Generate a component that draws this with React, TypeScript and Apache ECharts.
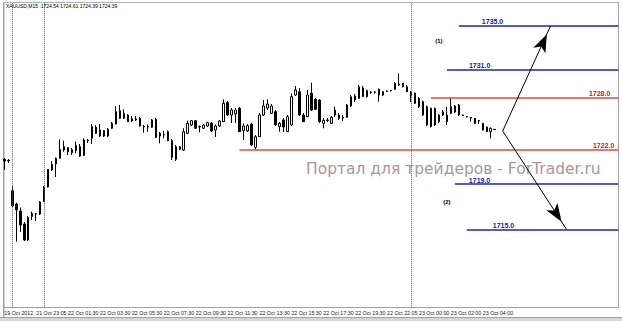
import React, { useEffect, useRef } from 'react';
import * as echarts from 'echarts';

const titleText = 'XAUUSD,M15  1724.54 1724.61 1724.39 1724.39';

const tickLabels = [
  '19 Oct 2012', '21 Oct 23:05', '22 Oct 01:30', '22 Oct 03:30', '22 Oct 05:30', '22 Oct 07:30',
  '22 Oct 09:30', '22 Oct 11:30', '22 Oct 13:30', '22 Oct 15:30', '22 Oct 17:30', '22 Oct 19:30',
  '22 Oct 22:05', '23 Oct 00:00', '23 Oct 02:00', '23 Oct 04:00',
];

const opens = [
  1721.65, 1721.55, 1718.53, 1717.2, 1716.5, 1715.2, 1713.6, 1715.95, 1716.2, 1716.2,
  1717.43, 1718.9, 1720.6, 1721.2, 1721.77, 1722.6, 1722.83, 1722.33, 1722.53, 1722.93,
  1722.07, 1723.6, 1723.77, 1724.87, 1724.0, 1724.53, 1724.0, 1724.77, 1725.2, 1726.53,
  1725.77, 1726.1, 1725.5, 1725.6, 1725.77, 1724.9, 1724.9, 1724.87, 1725.67, 1724.0,
  1724.1, 1724.43, 1723.53, 1721.67, 1722.67, 1722.6, 1724.27, 1725.1, 1725.53, 1724.9,
  1724.77, 1725.0, 1725.27, 1724.6, 1725.0, 1725.43, 1727.33, 1726.1, 1726.2, 1726.77,
  1724.53, 1724.5, 1725.17, 1722.87, 1723.93, 1726.1, 1726.8, 1726.27, 1726.43, 1724.93,
  1725.6, 1724.43, 1725.1, 1728.1, 1728.43, 1726.1, 1725.93, 1728.27, 1727.67, 1727.6,
  1725.27, 1725.55, 1725.27, 1726.1, 1726.1, 1725.8, 1725.87, 1727.0, 1727.6, 1727.77,
  1727.93, 1728.53, 1728.4, 1728.4, 1728.67, 1728.1, 1728.5, 1728.55, 1728.67, 1729.1,
  1729.27, 1728.93, 1728.0, 1728.27, 1727.77, 1727.43, 1726.93, 1724.93, 1725.1, 1725.43,
  1726.1, 1725.43, 1726.27, 1727.0, 1727.1, 1726.1, 1725.95, 1725.85, 1725.77, 1725.55,
  1725.27, 1724.9, 1724.43, 1724.67,
];

const closes = [
  1721.5, 1721.5, 1717.0, 1716.6, 1715.1, 1713.6, 1715.85, 1716.25, 1716.22, 1717.4,
  1718.9, 1720.65, 1721.17, 1721.77, 1722.67, 1722.93, 1722.43, 1722.63, 1723.07, 1722.0,
  1723.6, 1723.55, 1724.93, 1724.27, 1724.6, 1724.0, 1724.67, 1725.27, 1726.43, 1725.77,
  1726.27, 1725.43, 1725.75, 1725.7, 1725.0, 1724.95, 1724.95, 1725.6, 1723.87, 1724.27,
  1724.15, 1723.53, 1721.87, 1722.93, 1722.93, 1724.43, 1725.27, 1725.53, 1724.77, 1724.95,
  1725.1, 1725.33, 1724.5, 1725.0, 1725.5, 1727.27, 1726.1, 1726.6, 1726.6, 1724.43,
  1725.0, 1725.03, 1723.1, 1723.93, 1726.1, 1727.0, 1727.2, 1727.0, 1725.1, 1725.27,
  1724.9, 1725.93, 1727.93, 1728.6, 1726.1, 1725.43, 1728.1, 1726.6, 1726.67, 1725.43,
  1725.57, 1725.6, 1725.87, 1726.6, 1725.77, 1725.85, 1727.1, 1727.93, 1728.0, 1728.93,
  1728.8, 1727.93, 1728.35, 1728.37, 1728.1, 1728.43, 1728.47, 1728.52, 1729.27, 1729.2,
  1728.93, 1728.43, 1728.4, 1727.27, 1726.93, 1726.1, 1725.1, 1726.77, 1726.77, 1726.1,
  1726.4, 1726.1, 1726.93, 1726.4, 1726.1, 1726.06, 1725.91, 1725.8, 1725.27, 1725.5,
  1724.6, 1724.45, 1724.77, 1724.64,
];

const lows = [
  1720.6, 1721.3, 1716.9, 1713.43, 1714.4, 1713.5, 1713.5, 1715.6, 1715.5, 1716.1,
  1717.4, 1718.85, 1720.5, 1719.9, 1721.75, 1722.43, 1722.1, 1722.1, 1722.27, 1721.9,
  1722.0, 1723.3, 1723.2, 1724.2, 1723.9, 1723.9, 1723.9, 1724.7, 1725.15, 1725.7,
  1725.7, 1725.4, 1725.4, 1725.5, 1724.95, 1724.33, 1724.43, 1724.8, 1723.8, 1723.27,
  1723.77, 1723.5, 1721.6, 1721.5, 1722.6, 1722.5, 1724.2, 1725.0, 1724.7, 1724.37,
  1724.7, 1724.9, 1724.4, 1723.9, 1724.9, 1725.4, 1726.0, 1725.3, 1725.3, 1724.4,
  1723.6, 1724.4, 1723.0, 1722.65, 1723.9, 1726.0, 1726.6, 1726.2, 1725.0, 1724.43,
  1724.4, 1724.4, 1725.0, 1728.0, 1726.0, 1725.4, 1725.9, 1726.5, 1726.6, 1725.3,
  1724.77, 1725.4, 1725.2, 1725.9, 1725.6, 1725.5, 1725.8, 1726.9, 1727.4, 1727.7,
  1727.9, 1727.85, 1728.2, 1728.25, 1727.43, 1728.0, 1728.4, 1728.45, 1728.6, 1729.0,
  1728.85, 1728.4, 1727.4, 1727.2, 1726.8, 1726.0, 1725.0, 1724.85, 1725.0, 1725.27,
  1726.0, 1725.1, 1726.2, 1726.3, 1726.0, 1726.0, 1725.85, 1725.43, 1725.2, 1725.2,
  1724.55, 1724.4, 1723.77, 1724.6,
];

const highs = [
  1721.8, 1721.7, 1719.0, 1717.33, 1716.85, 1715.4, 1716.0, 1716.43, 1716.3, 1717.5,
  1719.0, 1720.7, 1721.5, 1721.85, 1723.67, 1723.53, 1722.9, 1722.8, 1723.43, 1723.2,
  1723.77, 1723.7, 1725.2, 1725.1, 1725.2, 1724.6, 1724.8, 1725.4, 1727.0, 1727.1,
  1726.67, 1726.2, 1726.0, 1726.0, 1725.9, 1725.1, 1725.15, 1725.7, 1725.8, 1724.4,
  1724.53, 1724.55, 1723.7, 1723.1, 1723.0, 1724.77, 1725.53, 1725.6, 1725.6, 1725.05,
  1725.2, 1725.43, 1725.4, 1725.15, 1725.6, 1727.67, 1727.5, 1726.8, 1726.8, 1726.9,
  1725.27, 1725.2, 1725.33, 1724.1, 1726.3, 1727.6, 1727.67, 1727.2, 1726.6, 1725.4,
  1725.8, 1726.1, 1728.27, 1729.0, 1728.8, 1726.3, 1728.6, 1729.33, 1727.8, 1727.7,
  1725.8, 1725.8, 1726.0, 1726.93, 1726.3, 1726.1, 1727.2, 1728.1, 1728.2, 1729.1,
  1729.0, 1728.65, 1728.5, 1728.5, 1728.75, 1728.5, 1728.55, 1728.6, 1729.4, 1730.27,
  1729.3, 1729.1, 1728.5, 1728.35, 1727.9, 1727.55, 1727.05, 1726.85, 1726.85, 1726.2,
  1726.6, 1726.93, 1727.77, 1727.1, 1727.2, 1726.15, 1726.0, 1725.9, 1725.8, 1725.6,
  1725.3, 1724.95, 1724.85, 1724.7,
];

// day separators (bar index)
const separatorBars = [2, 10, 102];

// horizontal levels: where the lines sit, their captions, and the bar they start at
const levelValues = [1735.03, 1730.65, 1727.83, 1722.63, 1719.2, 1714.6];
const levelLabels = ['1735.0', '1731.0', '1728.0', '1722.0', '1719.0', '1715.0'];
const levelStartBars = [114, 111, 107, 59, 113, 116];
const levelKinds = ['blue', 'blue', 'red', 'red', 'blue', 'blue'];

// forecast arrows: [bar, price]
const arrowFrom = [125, 1724.5];
const arrowUpTo = [137, 1735.0];
const arrowDownTo = [141, 1714.67];

// scenario marks
const scenarioNames = ['(1)', '(2)'];
const scenarioPoints = [[109, 1733.5], [111, 1717.4]];

const watermark = 'Портал для трейдеров - ForTrader.ru';

export default function App() {
  const ref = useRef<HTMLDivElement>(null);
  useEffect(() => {
    document.body.style.margin = '0';
    const chart = echarts.init(ref.current as HTMLDivElement, null, { renderer: 'svg' });
    const N = 155;
    const band = 3.987;
    const gridLeft = 2.33;
    const lastBar = N - 1;
    const cats = Array.from({ length: N }, (_, i) => String(i));
    const candles = opens.map((o, i) => [o, closes[i], lows[i], highs[i]]);

    const colors: Record<string, { line: string; text: string }> = {
      blue: { line: '#2323a8', text: '#1c1c9c' },
      red: { line: '#d24c4c', text: '#e01414' },
    };
    const labelPlace = [
      { position: 'insideStartTop', distance: [23, 1] },
      { position: 'insideStartTop', distance: [22, 1] },
      { position: 'insideEndTop', distance: [8, 1] },
      { position: 'insideEndTop', distance: [4, 1] },
      { position: 'insideStartTop', distance: [14, 0] },
      { position: 'insideStartTop', distance: [26, 1] },
    ];

    const sepLines = separatorBars.map((b) => ({
      xAxis: b,
      lineStyle: { type: 'dotted', color: '#555', width: 1 },
      label: { show: false },
    }));

    const levelLines = levelValues.map((v, k) => [
      {
        coord: [levelStartBars[k], v],
        lineStyle: { color: colors[levelKinds[k]].line, width: 1.6, type: 'solid' },
        label: {
          show: true,
          formatter: levelLabels[k],
          position: labelPlace[k].position,
          distance: labelPlace[k].distance,
          color: colors[levelKinds[k]].text,
          fontSize: 7,
          fontWeight: 'bold',
          fontFamily: 'Liberation Sans',
        },
      },
      { coord: [lastBar, v] },
    ]);

    const arrowLine = (to: number[]) => [
      {
        coord: arrowFrom,
        symbol: 'none',
        lineStyle: { color: '#000', width: 1, type: 'solid' },
        label: { show: false },
      },
      { coord: to, symbol: 'arrow', symbolSize: [10, 18], symbolOffset: [0, '50%'] },
    ];

    chart.setOption({
      animation: false,
      title: {
        text: titleText,
        left: 6,
        top: 3,
        padding: 0,
        textStyle: { fontSize: 5, fontWeight: 'normal', color: '#000', fontFamily: 'Liberation Sans' },
      },
      grid: { left: gridLeft, right: 622 - gridLeft - N * band, top: 3, bottom: 13.3 },
      xAxis: {
        type: 'category',
        data: cats,
        boundaryGap: true,
        axisLine: { show: false },
        axisTick: { show: false },
        splitLine: { show: false },
        axisLabel: {
          interval: (i: number) => i % 8 === 0 && i / 8 < tickLabels.length,
          formatter: (_v: string, i: number) => tickLabels[i / 8] ?? '',
          align: 'left',
          fontSize: 5.3,
          color: '#222',
          margin: 2.5,
          fontFamily: 'Liberation Sans',
        },
      },
      yAxis: { type: 'value', min: 1706.83, max: 1737.3, show: false },
      graphic: [
        { type: 'rect', shape: { x: 3, y: 2, width: 1.5, height: 315 }, style: { fill: '#a0a0a0' }, silent: true },
        { type: 'line', shape: { x1: 3, y1: 2.5, x2: 619, y2: 2.5 }, style: { stroke: '#b0b0b0', lineWidth: 1 }, silent: true },
        { type: 'line', shape: { x1: 618.5, y1: 2, x2: 618.5, y2: 308 }, style: { stroke: '#a0a0a0', lineWidth: 1 }, silent: true },
        { type: 'line', shape: { x1: 3, y1: 307.5, x2: 619, y2: 307.5 }, style: { stroke: '#a0a0a0', lineWidth: 1 }, silent: true },
        { type: 'rect', shape: { x: 0, y: 317, width: 622, height: 4 }, style: { fill: '#d6d6d6' }, silent: true },
        { type: 'line', shape: { x1: 0, y1: 317.5, x2: 622, y2: 317.5 }, style: { stroke: '#a0a0a0', lineWidth: 1 }, silent: true },
        {
          type: 'text',
          x: 306,
          y: 168.5,
          silent: true,
          z: -1,
          style: {
            text: watermark,
            fill: '#ab9696',
            font: '15.5px "DejaVu Sans"',
            verticalAlign: 'middle',
            align: 'left',
          },
        },
      ],
      series: [
        {
          type: 'candlestick',
          data: candles,
          barWidth: 2,
          itemStyle: {
            color: '#ffffff',
            color0: '#000000',
            borderColor: '#000000',
            borderColor0: '#000000',
            borderWidth: 1,
          },
          markLine: {
            silent: true,
            animation: false,
            symbol: ['none', 'none'],
            data: [...sepLines, ...levelLines, arrowLine(arrowUpTo), arrowLine(arrowDownTo)],
          },
          markPoint: {
            silent: true,
            animation: false,
            symbol: 'circle',
            symbolSize: 0,
            label: {
              show: true,
              position: 'inside',
              formatter: (p: any) => p.name,
              color: '#000',
              fontSize: 6,
              fontWeight: 'bold',
              fontFamily: 'Liberation Sans',
            },
            data: scenarioPoints.map((c, k) => ({ name: scenarioNames[k], coord: c })),
          },
        },
      ],
    });
    return () => chart.dispose();
  }, []);
  return <div ref={ref} style={{ width: 622, height: 321 }} />;
}
